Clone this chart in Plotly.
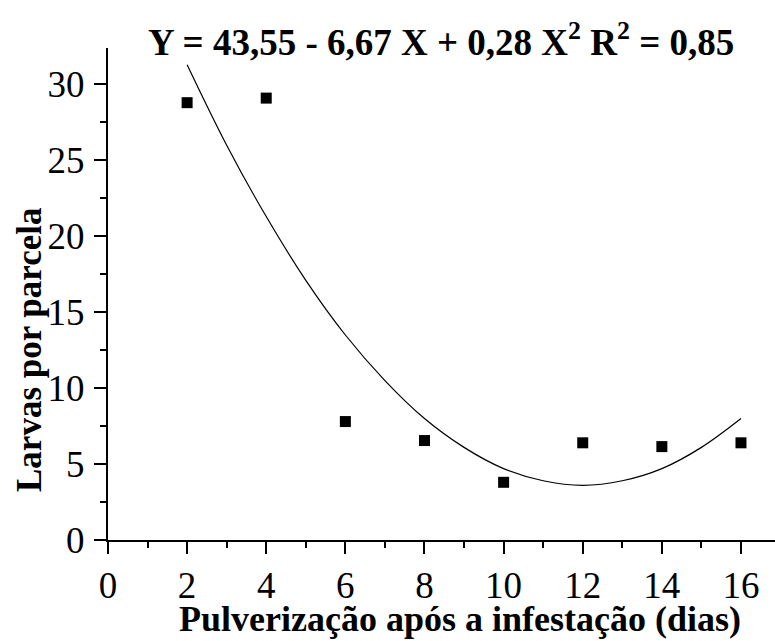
import plotly.graph_objects as go

dias = [2, 4, 6, 8, 10, 12, 14, 16]
larvas = [28.8, 29.1, 7.8, 6.55, 3.8, 6.4, 6.15, 6.4]

# Fitted curve as drawn
curva_x = [2, 3, 4, 5, 6, 7, 8, 9, 10, 11, 12, 13, 14, 15, 16]
curva_y = [31.3, 26.0, 21.3, 17.1, 13.5, 10.5, 8.0, 6.1, 4.7, 3.9, 3.6, 3.9, 4.7, 6.1, 8.0]

x_ticks = [0, 2, 4, 6, 8, 10, 12, 14, 16]
y_ticks = [0, 5, 10, 15, 20, 25, 30]

titulo = "Y = 43,55 - 6,67 X + 0,28 X<sup>2</sup> R<sup>2</sup> = 0,85"
x_titulo = "Pulverização após a infestação (dias)"
y_titulo = "Larvas por parcela"

FONT = "Liberation Serif"
W, H = 775, 641
L, R, T, B = 108, 0, 48, 101

fig = go.Figure()
fig.add_trace(go.Scatter(x=curva_x, y=curva_y, mode="lines",
                         line=dict(color="black", width=1.2, shape="spline"),
                         hoverinfo="skip", showlegend=False))
fig.add_trace(go.Scatter(x=dias, y=larvas, mode="markers",
                         marker=dict(symbol="square", size=11, color="black"),
                         showlegend=False))

axis_common = dict(showline=True, linecolor="black", linewidth=2,
                   ticks="outside", tickwidth=2, tickcolor="black", ticklen=12,
                   showgrid=False, zeroline=False,
                   tickfont=dict(family=FONT, size=37, color="black"))

fig.update_xaxes(range=[0, 16.86], tickvals=x_ticks,
                 minor=dict(ticks="outside", ticklen=6, tickwidth=2, tickcolor="black", dtick=1, tick0=0, showgrid=False),
                 **axis_common)
fig.update_yaxes(range=[0, 32.4], tickvals=y_ticks, ticklabelstandoff=2,
                 minor=dict(ticks="outside", ticklen=6, tickwidth=2, tickcolor="black", dtick=2.5, tick0=0, showgrid=False),
                 **axis_common)

plot_h = H - T - B
plot_w = W - L - R

fig.add_annotation(text="<b>" + titulo + "</b>", xref="paper", yref="paper",
                   x=(441 - L) / plot_w, y=1 + (T - 40) / plot_h,
                   xanchor="center", yanchor="middle", showarrow=False,
                   font=dict(family=FONT, size=37, color="black"))
fig.add_annotation(text="<b>" + x_titulo + "</b>", xref="paper", yref="paper",
                   x=(460 - L) / plot_w, y=-(619 - (H - B)) / plot_h,
                   xanchor="center", yanchor="middle", showarrow=False,
                   font=dict(family=FONT, size=36, color="black"))
fig.add_annotation(text="<b>" + y_titulo + "</b>", xref="paper", yref="paper",
                   x=-(L - 29) / plot_w, y=1 - (350 - T) / plot_h,
                   xanchor="center", yanchor="middle", showarrow=False, textangle=-90,
                   font=dict(family=FONT, size=35, color="black"))

fig.update_layout(width=W, height=H, margin=dict(l=L, r=R, t=T, b=B),
                  paper_bgcolor="white", plot_bgcolor="white",
                  font=dict(family=FONT, color="black"))

fig.write_html("out.html")
